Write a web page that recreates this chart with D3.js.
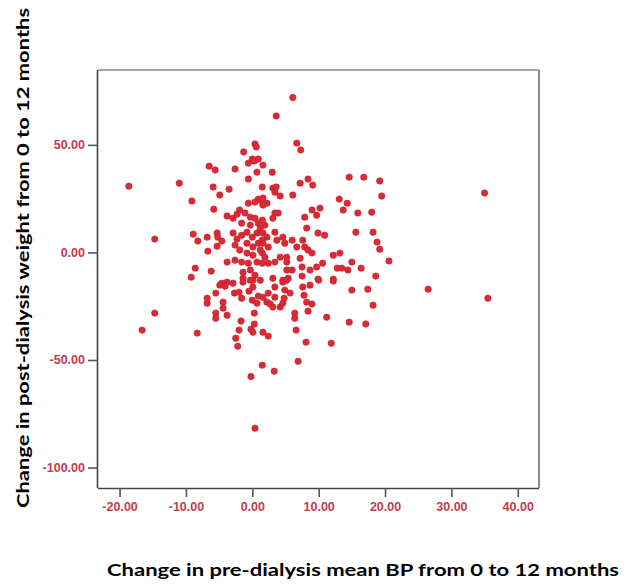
<!DOCTYPE html>
<html>
<head>
<meta charset="utf-8">
<script src="https://cdn.jsdelivr.net/npm/d3@7"></script>
<style>
  html, body { margin: 0; padding: 0; background: #fff; }
  svg { display: block; }
</style>
</head>
<body>
<svg id="chart" width="627" height="586"></svg>
<script>
// ---- Data ----
const xTicks = [-20, -10, 0, 10, 20, 30, 40];
const yTicks = [-100, -50, 0, 50];
const xTitle = "Change in pre-dialysis mean BP from 0 to 12 months";
const yTitle = "Change in post-dialysis weight from 0 to 12 months";

// change in pre-dialysis mean BP (x) and change in post-dialysis weight (y)
const bpChange = [
  0.4, 0.6, -1.3, -0.6, 0.0, 0.3, 0.9, 1.6, -6.5, -5.6, -2.6, 0.7, -11.0, -0.6, -5.9, -3.5, -4.9, 1.5, -9.1, -0.6, 0.9, 1.2,
  6.7, 7.3, 3.0, 14.6, 8.4, 7.2, 9.1, 3.1, 3.6, 3.4, 4.2, 6.1, 1.6, 13.1, 14.3, 2.2, 6.1, 3.6,
  -5.8, -3.8, 0.4, -2.3, -1.9, -1.1, -0.3, 0.4, -2.9, -1.6, -0.3, 0.9, 1.5, -8.9, -8.2, -6.8, -5.3, -5.2, -4.6, -5.3, -6.7,
  -2.9, -2.3, -2.6, -1.6, -0.8, 0.0, 0.7, -0.8, 0.1, 0.9, 1.5, -1.9, -0.8, 0.1, 1.5, -3.8, -2.6, -1.6, -0.6, 0.7, 1.5,
  -8.6, -6.2, -9.2, -1.4, -0.3, 0.4, -1.4, 0.1, -3.8, -4.6,
  1.6, 3.4, 3.1, 3.9, 9.0, 10.2, 9.7, 13.7, 7.9, 8.2, 9.9, 10.9, 1.9, 1.2, 3.4, 1.6, 2.2, 1.6, 2.4, 3.7, 4.6, 6.0, 4.9,
  7.6, 6.7, 7.9, 8.4, 9.0, 1.2, 1.9, 2.4, 3.4, 4.2, 5.2, 5.2, 7.2, 12.2, 13.2, 10.6, 9.7, 7.5, 8.7, 12.8, 13.5, 3.1, 4.6,
  5.4, 7.5, 9.9, 12.2, 5.2, 6.0, 14.4,
  -4.9, -4.1, -2.9, -1.4, -0.3, 0.1, 1.2, -6.8, -6.8, -5.5, -2.7, -2.0, -1.6, -0.5, 0.9, 1.6, -4.4, -4.4, 0.0, 0.7, -5.5,
  -5.5, -3.8, 0.3, -1.7, 0.3, -8.3, -2.0, -0.2, 0.1, 1.6, -2.5, -2.2, 1.5,
  3.4, 4.6, 5.2, 7.6, 8.7, 10.0, 12.2, 2.4, 3.4, 4.9, 5.7, 2.2, 2.7, 3.1, 4.2, 4.6, 4.8, 7.8, 8.2, 9.0, 8.4, 6.4, 6.4,
  11.2, 6.6, 2.4, 8.1, 11.9, 6.9,
  -18.6, -14.7, -14.7, -16.6, -0.2, 3.3, 0.4, 26.5, 35.0, 35.5, 20.6,
  16.8, 19.2, 19.5, 15.9, 18.0, 15.6, 18.2, 18.8, 19.2, 15.0, 16.4, 18.6, 15.0, 17.4, 18.2, 17.1, 14.6
];
const weightChange = [
  50.4, 49.0, 46.7, 41.5, 43.4, 42.5, 43.4, 40.6, 40.1, 38.3, 38.8, 37.3, 32.2, 34.1, 30.4, 29.4, 26.7, 30.4, 23.9, 22.9, 24.8, 24.3,
  50.8, 47.6, 37.3, 35.0, 34.1, 32.2, 31.3, 29.9, 30.4, 28.0, 26.2, 26.7, 25.3, 24.8, 22.9, 22.9, 72.0, 63.4,
  20.1, 16.9, 23.4, 17.8, 19.7, 18.3, 16.4, 15.9, 15.9, 13.6, 12.7, 13.6, 15.0, 8.5, 5.3, 7.1, 9.0, 7.1, 5.3, 2.9, 0.6,
  9.0, 6.2, 3.4, 8.0, 9.4, 7.1, 9.0, 4.3, 2.5, 4.3, 5.7, 1.1, -0.3, -1.3, -0.3, -4.5, -3.6, -4.5, -5.0, -4.5, -5.0,
  -7.3, -8.7, -11.5, -9.2, -8.2, -10.6, -12.0, -12.9, -13.8, -14.3,
  22.0, 18.3, 15.9, 18.3, 19.7, 20.6, 17.3, 19.7, 16.4, 11.3, 9.0, 8.0, 12.7, 11.3, 9.4, 9.0, 7.1, 4.3, 2.5, 5.7, 7.1, 5.7, 4.3,
  5.7, 2.5, 2.5, 1.1, -0.3, 1.1, -2.2, -5.0, -4.5, -2.2, -2.2, -4.5, -2.7, -1.3, -0.3, -5.0, -6.8, -6.8, -8.2, -7.3, -7.3, -12.0, -12.9,
  -12.0, -11.0, -12.4, -12.4, -8.2, -8.2, -8.2,
  -15.2, -15.7, -14.3, -13.8, -12.9, -16.1, -12.9, -21.3, -23.6, -18.9, -18.9, -18.5, -21.3, -18.0, -20.3, -20.8, -23.1, -25.9, -22.2, -23.6, -28.2,
  -30.6, -29.2, -28.2, -31.9, -33.3, -37.5, -36.1, -35.7, -37.1, -37.1, -39.9, -43.6, -52.4,
  -16.1, -13.8, -12.9, -16.1, -15.2, -12.9, -13.3, -18.9, -20.8, -17.5, -18.9, -23.1, -24.0, -25.4, -25.4, -23.6, -21.3, -19.9, -23.1, -24.0, -27.3, -28.2, -30.6,
  -30.1, -36.1, -38.9, -41.7, -42.2, -50.6,
  30.8, 6.2, -28.2, -36.1, -57.7, -55.2, -81.7, -17.1, 27.6, -21.3, -4.0,
  35.0, 33.2, 26.2, 18.3, 18.7, 9.4, 9.4, 4.8, 1.5, -4.5, -7.3, -11.0, -17.5, -17.1, -24.5, -33.3, -32.4
];

const xDomain = [-23.25, 43.2];
const yDomain = [-109.5, 84.8];

// ---- Layout ----
const svg = d3.select("#chart");
const plot = { left: 98, top: 70, right: 539, bottom: 488 };

const x = d3.scaleLinear().domain(xDomain).range([plot.left, plot.right]);
const y = d3.scaleLinear().domain(yDomain).range([plot.bottom, plot.top]);

const fmt = v => d3.format(".2f")(v).replace("\u2212", "-");
const tickColor = "#c9384c";

// Frame: top and right lighter
svg.append("line").attr("x1", plot.left).attr("x2", plot.right).attr("y1", plot.top).attr("y2", plot.top)
  .attr("stroke", "#8a8a8a").attr("stroke-width", 1.5);
svg.append("line").attr("x1", plot.right).attr("x2", plot.right).attr("y1", plot.top).attr("y2", plot.bottom)
  .attr("stroke", "#8a8a8a").attr("stroke-width", 2);

// Axes
const xAxis = d3.axisBottom(x).tickValues(xTicks).tickFormat(fmt).tickSize(9).tickSizeOuter(0).tickPadding(5);
const yAxis = d3.axisLeft(y).tickValues(yTicks).tickFormat(fmt).tickSize(10).tickSizeOuter(0).tickPadding(3);

const gx = svg.append("g").attr("transform", `translate(0,${plot.bottom})`).call(xAxis);
const gy = svg.append("g").attr("transform", `translate(${plot.left},0)`).call(yAxis);

[gx, gy].forEach(g => {
  g.select(".domain").attr("stroke", "#444").attr("stroke-width", 1.6);
  g.selectAll(".tick line").attr("stroke", "#555").attr("stroke-width", 1.6);
  g.selectAll(".tick text")
    .attr("fill", tickColor)
    .style("font-family", "'Liberation Sans', Arial, sans-serif")
    .style("font-weight", "bold")
    .style("font-size", "12.5px");
});
gx.select(".domain").attr("d", `M${plot.left},0.5H${plot.right}`);
gy.select(".domain").attr("d", `M-0.5,${plot.top}V${plot.bottom}`);

// Points
svg.append("g").selectAll("circle")
  .data(bpChange.map((v, i) => [v, weightChange[i]]))
  .join("circle")
  .attr("cx", d => x(d[0]))
  .attr("cy", d => y(d[1]))
  .attr("r", 3.2)
  .attr("fill", "#dc2a34")
  .attr("stroke", "#c21f2b")
  .attr("stroke-width", 0.6);

// Titles
svg.append("text")
  .attr("x", 363).attr("y", 576)
  .attr("text-anchor", "middle")
  .attr("textLength", 512).attr("lengthAdjust", "spacingAndGlyphs")
  .style("font-family", "Lato, 'Liberation Sans', sans-serif")
  .style("font-weight", "bold")
  .style("font-size", "17.5px")
  .attr("fill", "#000")
  .text(xTitle);

svg.append("text")
  .attr("transform", "translate(29,258) rotate(-90)")
  .attr("text-anchor", "middle")
  .attr("textLength", 500).attr("lengthAdjust", "spacingAndGlyphs")
  .style("font-family", "Lato, 'Liberation Sans', sans-serif")
  .style("font-weight", "bold")
  .style("font-size", "17.5px")
  .attr("fill", "#000")
  .text(yTitle);
</script>
</body>
</html>
